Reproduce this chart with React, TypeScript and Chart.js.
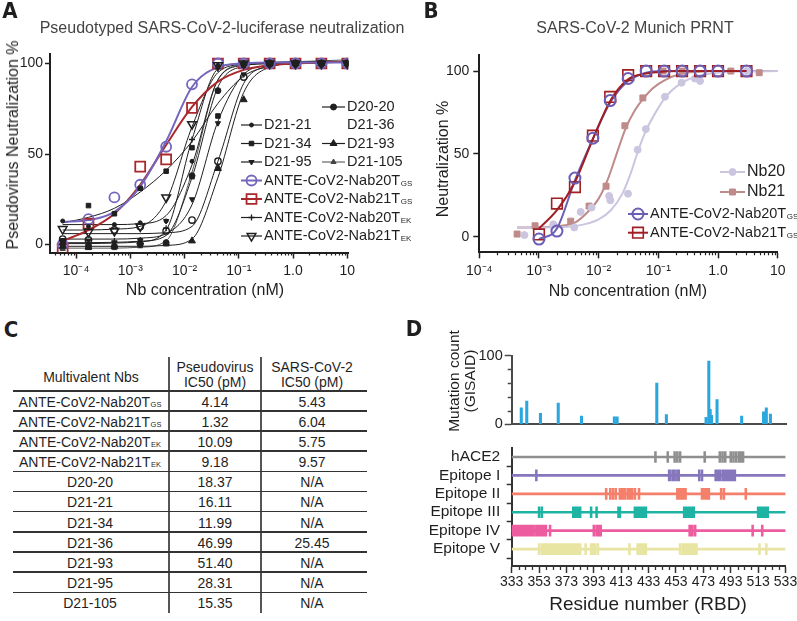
import React, { useEffect, useRef } from 'react';
import { Chart, registerables } from 'chart.js';

Chart.register(...registerables);

const FONT = '"Liberation Sans", Arial, Helvetica, sans-serif';
const LETTER_FONT = '"Liberation Sans Narrow", "DejaVu Sans Condensed", "Liberation Sans", Arial, sans-serif';
const INK = '#1f1f1f';
Chart.defaults.font.family = FONT;
Chart.defaults.color = INK;

// ---------------- Panel A data (pseudovirus neutralization) ----------------
const aConc = [5.65e-5, 1.69e-4, 5.08e-4, 1.52e-3, 4.57e-3, 0.0137, 0.0412, 0.123, 0.37, 1.11, 3.33, 10];
const aD2020Pts = [0, -1, -1, 0, 1, 38, 85, 100, 100, 100, 100, 100];
const aD2020Fit = [1, 1, 1.2, 1.8, 5, 37, 87, 98.5, 100, 100.5, 101, 101];
const aD2121Pts = [13, 10, 11, 12, 13, 46, 99, 100, 100, 100, 100, 100];
const aD2121Fit = [11, 11, 11, 11.5, 16, 44, 91, 99, 100, 100.5, 101, 101];
const aD2134Pts = [2, 21.5, 17, 31, 40.5, 53.5, 71, 99, 100, 100, 100, 100];
const aD2134Fit = [12, 15, 20, 29, 41, 57, 78, 93, 98.5, 100, 100.5, 101];
const aD2136Pts = [3, 2.5, 8, 10, 7.5, 13.5, 46, 92.5, 100, 100, 100, 100];
const aD2136Fit = [6, 6, 6, 6, 6.5, 10, 46, 89, 98.5, 100, 100.5, 101];
const aD2193Pts = [-1, -1.5, -1, 1.5, 0.5, 2, 42, 80, 100, 100, 100, 100];
const aD2193Fit = [-1, -1, -1, -1, -0.5, 3, 37, 84, 98, 100, 100.5, 101];
const aD2195Pts = [2, 2, 1, 2.5, 13, 25, 67, 94, 100, 100, 100, 100];
const aD2195Fit = [3, 3, 3, 3.5, 6, 22, 68, 94, 99, 100, 100.5, 101];
const aD21105Pts = [-2.5, -2, -2, -1, 0, 37, 43, 100, 100, 100, 100, 100];
const aD21105Fit = [-2, -2, -2, -1.5, 2, 40, 91, 99.5, 100.5, 101, 101.5, 102];
const aNab20EKPts = [1, 0, 2, 2.5, 9, 58, 97, 100, 100, 100, 100, 100];
const aNab20EKFit = [0.5, 0.5, 0.8, 1.5, 8, 58, 97, 100, 100.5, 101, 101, 101];
const aNab21EKPts = [8.5, 7, 7.5, 10, 26, 66.5, 99, 100, 100, 100, 100, 100];
const aNab21EKFit = [8, 8, 8.5, 10, 24, 65, 95, 99.5, 100, 100.5, 101, 101];
const aNab20GSPts = [0, 14, 26, 33, 54, 88.5, 100, 100, 100, 100, 100, 100];
const aNab20GSFit = [12.5, 13.5, 18, 32, 57, 87, 98, 100, 100.5, 100.5, 100.5, 100.5];
const aNab21GSPts = [-2.5, 11.5, null, 43, 47, 75.5, 100, 100, 100, 100, 100, 100];
const aNab21GSFit = [2, 8, 17, 33, 55, 76, 90, 96.5, 99, 100, 100.5, 101];
const aXTickValues = [1e-4, 1e-3, 1e-2, 1e-1, 1, 10];
const aXTickLabels = ['10⁻⁴', '10⁻³', '10⁻²', '10⁻¹', '1.0', '10'];
const aYTickValues = [0, 50, 100];

// ---------------- Panel B data (PRNT) ----------------
const bNabConc = [0.001, 0.002, 0.004, 0.008, 0.0156, 0.0312, 0.0625, 0.125, 0.25, 0.5, 1, 3];
const bNab20Pts = [-1.4, 3.4, 35.4, 59.5, 82.2, 95.5, 100, 100, 100, 100, 100, 100];
const bNab20Fit = [-1.5, 5, 34, 59, 81, 94, 99, 100, 100, 100, 100, 100];
const bNab21Pts = [1.4, 20, 30, 61, 84.4, 97.5, 100, 100, 100, 100, 100, 100];
const bNab21Fit = [5, 16, 33, 59, 82, 95, 98.5, 99.7, 100, 100, 100, 100];
const bNb20Conc = [5.7e-4, 0.00174, 0.0039, 0.005, 0.0076, 0.015, 0.0157, 0.031, 0.045, 0.0618, 0.129, 0.245, 0.41, 0.5, 3];
const bNb20Pts = [1, 7.5, 5.6, 15, 17.6, 24.6, 22, 26, 52.5, 65, 84.5, 93, 95.5, 94, 100];
const bNb20FitConc = [4.3e-4, 0.002, 0.005, 0.01, 0.016, 0.025, 0.035, 0.045, 0.062, 0.09, 0.13, 0.25, 0.5, 1, 3, 10];
const bNb20Fit = [5.5, 5.7, 7, 10.5, 16, 26, 39, 51, 64, 75, 84, 93, 97.3, 99, 99.8, 100];
const bNb21Conc = [4.3e-4, 8.6e-4, 0.0034, 0.0069, 0.0133, 0.0275, 0.055, 0.12, 0.25, 1.64, 4.9];
const bNb21Pts = [1.6, 6.6, 9.4, 18.5, 30.5, 67, 83.8, 100, 100, 100, 99];
const bNb21FitConc = [4.3e-4, 0.001, 0.002, 0.004, 0.007, 0.01, 0.014, 0.02, 0.028, 0.04, 0.055, 0.08, 0.12, 0.25, 0.5, 1, 10];
const bNb21Fit = [5.5, 5.7, 6.3, 8.5, 16, 23, 34, 50, 65, 76, 83, 89.5, 94, 98.5, 99.6, 100, 100];
const bXTickValues = [1e-4, 1e-3, 1e-2, 1e-1, 1, 10];
const bXTickLabels = ['10⁻⁴', '10⁻³', '10⁻²', '10⁻¹', '1.0', '10'];
const bYTickValues = [0, 50, 100];

// ---------------- Panel C data (table) ----------------
const tableNames = ['ANTE-CoV2-Nab20T', 'ANTE-CoV2-Nab21T', 'ANTE-CoV2-Nab20T', 'ANTE-CoV2-Nab21T', 'D20-20', 'D21-21', 'D21-34', 'D21-36', 'D21-93', 'D21-95', 'D21-105'];
const tableSubs = ['GS', 'GS', 'EK', 'EK', '', '', '', '', '', '', ''];
const tablePseudo = ['4.14', '1.32', '10.09', '9.18', '18.37', '16.11', '11.99', '46.99', '51.40', '28.31', '15.35'];
const tableSars = ['5.43', '6.04', '5.75', '9.57', 'N/A', 'N/A', 'N/A', '25.45', 'N/A', 'N/A', 'N/A'];

// ---------------- Panel D data ----------------
const mutResidues = [340, 344, 354, 367, 384, 408, 410, 439, 446, 475, 477, 478, 479, 483, 501, 517, 519, 522];
const mutCounts = [24, 34, 16, 31, 12, 11, 11, 60, 14, 10, 92, 22, 13, 36, 12, 18, 24, 15];
const mutYTicks = [0, 100];
const trackNames = ['hACE2', 'Epitope I', 'Epitope II', 'Epitope III', 'Epitope IV', 'Epitope V'];
const hace2Sites = [[438, 438], [447, 447], [452, 452], [454, 454], [456, 456], [474, 474], [485, 485], [487, 487], [489, 489], [493, 493], [495, 495], [497, 497], [499, 502]];
const epitope1Sites = [[351, 351], [448, 449], [451, 452], [454, 455], [470, 470], [472, 472], [482, 485], [487, 496]];
const epitope2Sites = [[402, 402], [405, 405], [407, 407], [409, 409], [412, 416], [418, 421], [423, 423], [426, 426], [454, 460], [472, 477], [486, 486], [488, 488], [504, 504]];
const epitope3Sites = [[353, 353], [355, 355], [378, 383], [391, 391], [395, 395], [411, 412], [423, 431], [459, 466], [513, 520]];
const epitope4Sites = [[333, 349], [351, 358], [361, 361], [393, 393], [395, 398], [463, 465], [467, 467], [509, 509], [516, 516]];
const epitope5Sites = [[353, 353], [355, 383], [387, 387], [391, 394], [396, 396], [419, 419], [425, 431], [456, 456], [458, 468], [514, 514], [519, 519]];
const trackSites = [hace2Sites, epitope1Sites, epitope2Sites, epitope3Sites, epitope4Sites, epitope5Sites];
const residueTickValues = [333, 353, 373, 393, 413, 433, 453, 473, 493, 513, 533];

// ---------------- styles ----------------
const TRANSPARENT = 'rgba(0,0,0,0)';
const PURPLE_A = '#7566bd';
const RED_A = '#a8282c';
const trackColors = ['#8f8f8f', '#8677bd', '#f47f6b', '#1fb3a3', '#ec5c9f', '#e8e4a2'];

type Marker = { shape: string; radius: number; rotation?: number; fill: string; stroke: string; lw: number };

const aSeries = [
  { name: 'D20-20', pts: aD2020Pts, fit: aD2020Fit, colored: false, line: INK, lw: 1, marker: { shape: 'circle', radius: 3, fill: INK, stroke: INK, lw: 1 } },
  { name: 'D21-21', pts: aD2121Pts, fit: aD2121Fit, colored: false, line: INK, lw: 1, marker: { shape: 'circle', radius: 2, fill: INK, stroke: INK, lw: 1 } },
  { name: 'D21-34', pts: aD2134Pts, fit: aD2134Fit, colored: false, line: INK, lw: 1, marker: { shape: 'rect', radius: 3.2, fill: INK, stroke: INK, lw: 1 } },
  { name: 'D21-36', pts: aD2136Pts, fit: aD2136Fit, colored: false, line: INK, lw: 1, marker: { shape: 'circle', radius: 3.2, fill: TRANSPARENT, stroke: INK, lw: 1.4 } },
  { name: 'D21-93', pts: aD2193Pts, fit: aD2193Fit, colored: false, line: INK, lw: 1, marker: { shape: 'triangle', radius: 4, fill: INK, stroke: INK, lw: 1 } },
  { name: 'D21-95', pts: aD2195Pts, fit: aD2195Fit, colored: false, line: INK, lw: 1, marker: { shape: 'triangle', rotation: 180, radius: 3, fill: INK, stroke: INK, lw: 1 } },
  { name: 'D21-105', pts: aD21105Pts, fit: aD21105Fit, colored: false, line: '#555', lw: 1, marker: { shape: 'triangle', radius: 3, fill: '#444', stroke: '#444', lw: 1 } },
  { name: 'Nab20TEK', pts: aNab20EKPts, fit: aNab20EKFit, colored: false, line: INK, lw: 1, marker: { shape: 'cross', radius: 3, fill: INK, stroke: INK, lw: 1.3 } },
  { name: 'Nab21TEK', pts: aNab21EKPts, fit: aNab21EKFit, colored: false, line: INK, lw: 1, marker: { shape: 'triangle', rotation: 180, radius: 5, fill: TRANSPARENT, stroke: INK, lw: 1.5 } },
  { name: 'Nab20TGS', pts: aNab20GSPts, fit: aNab20GSFit, colored: true, line: PURPLE_A, lw: 2, marker: { shape: 'circle', radius: 5, fill: TRANSPARENT, stroke: PURPLE_A, lw: 1.8 } },
  { name: 'Nab21TGS', pts: aNab21GSPts, fit: aNab21GSFit, colored: true, line: RED_A, lw: 2, marker: { shape: 'rect', radius: 7, fill: TRANSPARENT, stroke: RED_A, lw: 1.8 } },
];

const B_PURPLE = '#6c5db5';
const B_RED = '#a01f22';
const B_LAV = '#cbc5e0';
const B_ROSE = '#bf8a8a';
const bMarkers: Record<string, Marker> = {
  nab20: { shape: 'circle', radius: 5.5, fill: TRANSPARENT, stroke: B_PURPLE, lw: 2 },
  nab21: { shape: 'rect', radius: 7.5, fill: TRANSPARENT, stroke: B_RED, lw: 1.6 },
  nb20: { shape: 'circle', radius: 3.5, fill: B_LAV, stroke: B_LAV, lw: 1 },
  nb21: { shape: 'rect', radius: 4.2, fill: B_ROSE, stroke: B_ROSE, lw: 1 },
};

// ---------------- helpers ----------------
function drawMarker(ctx: CanvasRenderingContext2D, m: Marker, x: number, y: number) {
  ctx.save();
  ctx.fillStyle = m.fill;
  ctx.strokeStyle = m.stroke;
  ctx.lineWidth = m.lw;
  const r = m.radius;
  ctx.beginPath();
  if (m.shape === 'circle') ctx.arc(x, y, r, 0, Math.PI * 2);
  else if (m.shape === 'rect') {
    const s = r * Math.SQRT1_2;
    ctx.rect(x - s, y - s, 2 * s, 2 * s);
  } else if (m.shape === 'triangle') {
    let rad = ((m.rotation || 0) * Math.PI) / 180;
    for (let i = 0; i < 3; i++) {
      const px = x + Math.sin(rad) * r;
      const py = y - Math.cos(rad) * r;
      if (i) ctx.lineTo(px, py);
      else ctx.moveTo(px, py);
      rad += (2 * Math.PI) / 3;
    }
    ctx.closePath();
  } else if (m.shape === 'cross') {
    ctx.moveTo(x - r, y);
    ctx.lineTo(x + r, y);
    ctx.moveTo(x, y - r);
    ctx.lineTo(x, y + r);
  }
  if (m.shape !== 'cross') ctx.fill();
  ctx.stroke();
  ctx.restore();
}

const pointOpts = (m: Marker) => ({
  pointStyle: m.shape,
  pointRadius: m.radius,
  pointHoverRadius: m.radius,
  pointRotation: m.rotation || 0,
  pointBackgroundColor: m.fill,
  pointBorderColor: m.stroke,
  pointBorderWidth: m.lw,
});

const fixSize = (size: number) => (scale: any) => {
  if (scale.isHorizontal()) scale.height = size;
  else scale.width = size;
  scale.paddingLeft = 0;
  scale.paddingRight = 0;
  scale.paddingTop = 0;
  scale.paddingBottom = 0;
};

type MinorItem = { axis: string; values: number[]; length: number; color: string; width: number };
function makeMinorTicks(items: MinorItem[]) {
  return {
    id: 'minorTicks',
    afterDraw(chart: any) {
      const ctx = chart.ctx;
      const area = chart.chartArea;
      items.forEach((it) => {
        const scale = chart.scales[it.axis];
        ctx.save();
        ctx.strokeStyle = it.color;
        ctx.lineWidth = it.width;
        ctx.beginPath();
        it.values.forEach((v) => {
          const p = Math.round(scale.getPixelForValue(v)) + 0.5;
          if (scale.isHorizontal()) {
            ctx.moveTo(p, area.bottom);
            ctx.lineTo(p, area.bottom + it.length);
          } else {
            ctx.moveTo(area.left, p);
            ctx.lineTo(area.left - it.length, p);
          }
        });
        ctx.stroke();
        ctx.restore();
      });
    },
  };
}

type LegendItem = { text: string; sub?: string; x1?: number; x2?: number; tx: number; y: number; line?: string; lw?: number; marker?: Marker; size: number };
function makeLegend(items: LegendItem[]) {
  return {
    id: 'figLegend',
    afterDatasetsDraw(chart: any) {
      const ctx: CanvasRenderingContext2D = chart.ctx;
      items.forEach((it) => {
        if (it.line && it.x1 !== undefined && it.x2 !== undefined) {
          ctx.save();
          ctx.strokeStyle = it.line;
          ctx.lineWidth = it.lw || 1;
          ctx.beginPath();
          ctx.moveTo(it.x1, it.y);
          ctx.lineTo(it.x2, it.y);
          ctx.stroke();
          ctx.restore();
        }
        if (it.marker && it.x1 !== undefined && it.x2 !== undefined) drawMarker(ctx, it.marker, (it.x1 + it.x2) / 2, it.y);
        ctx.save();
        ctx.fillStyle = INK;
        ctx.font = `${it.size}px ${FONT}`;
        ctx.textBaseline = 'middle';
        ctx.textAlign = 'left';
        ctx.fillText(it.text, it.tx, it.y);
        if (it.sub) {
          const w = ctx.measureText(it.text).width;
          ctx.font = `${Math.round(it.size * 0.52)}px ${FONT}`;
          ctx.textBaseline = 'alphabetic';
          ctx.fillText(it.sub, it.tx + w + 0.5, it.y + it.size * 0.36);
        }
        ctx.restore();
      });
    },
  };
}

function logMinors(min: number, max: number) {
  const out: number[] = [];
  for (let k = -6; k <= 2; k++) {
    for (let m = 2; m <= 9; m++) {
      const v = m * Math.pow(10, k);
      if (v > min && v < max) out.push(v);
    }
  }
  return out;
}

const axisGrid = (len: number) => ({ display: true, drawOnChartArea: false, drawTicks: true, tickLength: len, tickWidth: 1.5, tickColor: INK });
const axisBorder = { display: true, color: INK, width: 2 };

// ---------------- chart builders ----------------
const A_XMIN = 3.3e-5;
const A_XMAX = 10.43;

function buildA(): any {
  const datasets: any[] = [];
  aSeries.forEach((s) => {
    datasets.push({
      label: s.name + ' points',
      data: aConc.map((c, j) => ({ x: c, y: s.pts[j] })).filter((p) => p.y !== null),
      showLine: false,
      order: 0,
      ...pointOpts(s.marker as Marker),
    });
    datasets.push({
      label: s.name + ' fit',
      data: aConc.map((c, j) => ({ x: c, y: s.fit[j] })),
      showLine: true,
      pointRadius: 0,
      borderColor: s.line,
      borderWidth: s.lw,
      cubicInterpolationMode: 'monotone',
      order: s.colored ? 1 : 2,
    });
  });
  const m = (name: string) => aSeries.find((s) => s.name === name)!.marker as Marker;
  const L = { x1: 241, x2: 262, tx: 264 };
  const R = { x1: 322, x2: 345, tx: 347 };
  const size = 14.5;
  const legend: LegendItem[] = [
    { text: 'D20-20', ...R, y: 107, line: INK, lw: 1.2, marker: m('D20-20'), size },
    { text: 'D21-21', ...L, y: 125, line: INK, lw: 1.2, marker: m('D21-21'), size },
    { text: 'D21-36', tx: 347, y: 125, size },
    { text: 'D21-34', ...L, y: 143.5, line: INK, lw: 1.2, marker: m('D21-34'), size },
    { text: 'D21-93', ...R, y: 143.5, line: INK, lw: 1.2, marker: m('D21-93'), size },
    { text: 'D21-95', ...L, y: 162, line: INK, lw: 1.2, marker: m('D21-95'), size },
    { text: 'D21-105', ...R, y: 162, line: '#666', lw: 1.2, marker: m('D21-105'), size },
    { text: 'ANTE-CoV2-Nab20T', sub: 'GS', ...L, y: 180.5, line: PURPLE_A, lw: 2, marker: m('Nab20TGS'), size },
    { text: 'ANTE-CoV2-Nab21T', sub: 'GS', ...L, y: 199, line: RED_A, lw: 2, marker: m('Nab21TGS'), size },
    { text: 'ANTE-CoV2-Nab20T', sub: 'EK', ...L, y: 217.5, line: INK, lw: 1.2, marker: m('Nab20TEK'), size },
    { text: 'ANTE-CoV2-Nab21T', sub: 'EK', ...L, y: 236, line: INK, lw: 1.2, marker: m('Nab21TEK'), size },
  ];
  return {
    type: 'scatter',
    data: { datasets },
    options: {
      responsive: false,
      animation: false,
      devicePixelRatio: 1,
      events: [],
      layout: { padding: { left: 0, right: 420 - 348.3, top: 54, bottom: 0 } },
      plugins: { legend: { display: false }, tooltip: { enabled: false } },
      scales: {
        x: {
          type: 'logarithmic',
          min: A_XMIN,
          max: A_XMAX,
          bounds: 'data',
          afterFit: fixSize(300 - 252.5),
          afterBuildTicks: (s: any) => { s.ticks = aXTickValues.map((v) => ({ value: v })); },
          ticks: { callback: (_v: any, i: number) => aXTickLabels[i], font: { size: 14 }, color: INK, padding: 4, autoSkip: false, maxRotation: 0 },
          grid: axisGrid(6),
          border: axisBorder,
        },
        y: {
          type: 'linear',
          min: -4.42,
          max: 105.25,
          bounds: 'data',
          afterFit: fixSize(50),
          afterBuildTicks: (s: any) => { s.ticks = aYTickValues.map((v) => ({ value: v })); },
          ticks: { font: { size: 14 }, color: INK, padding: 2 },
          grid: axisGrid(5),
          border: axisBorder,
        },
      },
    },
    plugins: [
      makeMinorTicks([{ axis: 'x', values: logMinors(A_XMIN, A_XMAX), length: 3, color: INK, width: 1.2 }]),
      makeLegend(legend),
    ],
  };
}

function buildB(): any {
  const pts = (xs: number[], ys: number[]) => xs.map((x, i) => ({ x, y: ys[i] }));
  const datasets: any[] = [
    { label: 'Nab20 pts', data: pts(bNabConc, bNab20Pts), showLine: false, order: 0, ...pointOpts(bMarkers.nab20) },
    { label: 'Nab21 pts', data: pts(bNabConc, bNab21Pts), showLine: false, order: 0, ...pointOpts(bMarkers.nab21) },
    { label: 'Nb20 pts', data: pts(bNb20Conc, bNb20Pts), showLine: false, order: 3, ...pointOpts(bMarkers.nb20) },
    { label: 'Nb21 pts', data: pts(bNb21Conc, bNb21Pts), showLine: false, order: 3, ...pointOpts(bMarkers.nb21) },
    { label: 'Nab20 fit', data: pts(bNabConc, bNab20Fit), showLine: true, pointRadius: 0, borderColor: B_PURPLE, borderWidth: 2, cubicInterpolationMode: 'monotone', order: 2 },
    { label: 'Nab21 fit', data: pts(bNabConc, bNab21Fit), showLine: true, pointRadius: 0, borderColor: B_RED, borderWidth: 2, cubicInterpolationMode: 'monotone', order: 1 },
    { label: 'Nb20 fit', data: pts(bNb20FitConc, bNb20Fit), showLine: true, pointRadius: 0, borderColor: B_LAV, borderWidth: 2, cubicInterpolationMode: 'monotone', order: 4 },
    { label: 'Nb21 fit', data: pts(bNb21FitConc, bNb21Fit), showLine: true, pointRadius: 0, borderColor: B_ROSE, borderWidth: 2, cubicInterpolationMode: 'monotone', order: 4 },
  ];
  const off = 420;
  const legend: LegendItem[] = [
    { text: 'Nb20', x1: 720 - off, x2: 745 - off, tx: 747 - off, y: 172, line: B_LAV, lw: 2, marker: bMarkers.nb20, size: 16 },
    { text: 'Nb21', x1: 720 - off, x2: 745 - off, tx: 747 - off, y: 192, line: B_ROSE, lw: 2, marker: bMarkers.nb21, size: 16 },
    { text: 'ANTE-CoV2-Nab20T', sub: 'GS', x1: 628 - off, x2: 648 - off, tx: 650 - off, y: 214, line: B_PURPLE, lw: 2, marker: bMarkers.nab20, size: 14.5 },
    { text: 'ANTE-CoV2-Nab21T', sub: 'GS', x1: 628 - off, x2: 648 - off, tx: 650 - off, y: 232.7, line: B_RED, lw: 2, marker: bMarkers.nab21, size: 14.5 },
  ];
  return {
    type: 'scatter',
    data: { datasets },
    options: {
      responsive: false,
      animation: false,
      devicePixelRatio: 1,
      events: [],
      layout: { padding: { left: 0, right: 377 - (777.7 - off), top: 55, bottom: 0 } },
      plugins: { legend: { display: false }, tooltip: { enabled: false } },
      scales: {
        x: {
          type: 'logarithmic',
          min: 1e-4,
          max: 10,
          bounds: 'data',
          afterFit: fixSize(300 - 252.3),
          afterBuildTicks: (s: any) => { s.ticks = bXTickValues.map((v) => ({ value: v })); },
          ticks: { callback: (_v: any, i: number) => bXTickLabels[i], font: { size: 14 }, color: INK, padding: 4, autoSkip: false, maxRotation: 0 },
          grid: axisGrid(6),
          border: axisBorder,
        },
        y: {
          type: 'linear',
          min: -9.4,
          max: 109.7,
          bounds: 'data',
          afterFit: fixSize(479.3 - off),
          afterBuildTicks: (s: any) => { s.ticks = bYTickValues.map((v) => ({ value: v })); },
          ticks: { font: { size: 14 }, color: INK, padding: 4 },
          grid: axisGrid(6),
          border: axisBorder,
        },
      },
    },
    plugins: [
      makeMinorTicks([{ axis: 'x', values: logMinors(1e-4, 10), length: 3, color: INK, width: 1.2 }]),
      makeLegend(legend),
    ],
  };
}

const D_LEFT = 400;
const D_AXIS_RIGHT = 785.5;

function buildD1(): any {
  return {
    type: 'bar',
    data: {
      datasets: [
        {
          label: 'Mutation count',
          data: mutResidues.map((r, i) => ({ x: r, y: mutCounts[i] })),
          backgroundColor: '#2ba6de',
          barThickness: 2.4,
        },
      ],
    },
    options: {
      responsive: false,
      animation: false,
      devicePixelRatio: 1,
      events: [],
      layout: { padding: { left: 0, right: 397 - (D_AXIS_RIGHT + 1.2 - D_LEFT), top: 25.7, bottom: 0 } },
      plugins: { legend: { display: false }, tooltip: { enabled: false } },
      scales: {
        x: {
          type: 'linear',
          min: 333,
          max: 533.9,
          bounds: 'data',
          offset: false,
          afterFit: fixSize(110 - 94.3),
          ticks: { display: false },
          grid: { display: true, drawOnChartArea: false, drawTicks: false },
          border: { display: true, color: '#4a4a4a', width: 2 },
        },
        y: {
          type: 'linear',
          min: 0,
          max: 100,
          bounds: 'data',
          afterFit: fixSize(111.7),
          afterBuildTicks: (s: any) => { s.ticks = mutYTicks.map((v) => ({ value: v })); },
          ticks: { font: { size: 14.5 }, color: INK, padding: 2 },
          grid: { ...axisGrid(7), tickColor: '#4a4a4a' },
          border: { display: true, color: '#4a4a4a', width: 2 },
        },
      },
    },
    plugins: [makeMinorTicks([{ axis: 'y', values: [20, 40, 60, 80], length: 4, color: '#4a4a4a', width: 1.5 }])],
  };
}

function buildD2(): any {
  const datasets: any[] = [];
  datasets.push({
    label: 'track lines',
    data: trackNames.map((_n, i) => ({ y: i, x: [333, 533] })),
    backgroundColor: trackColors,
    barThickness: 2,
    grouped: false,
    order: 2,
  });
  trackSites.forEach((sites, t) => {
    datasets.push({
      label: trackNames[t],
      data: sites.map(([s, e]) => ({ y: t, x: [s - 0.7, e + 0.7] })),
      backgroundColor: trackColors[t],
      barThickness: 11,
      grouped: false,
      order: 1,
    });
  });
  const minorRes: number[] = [];
  for (let r = 338; r < 533; r += 5) if ((r - 333) % 20 !== 0) minorRes.push(r);
  return {
    type: 'bar',
    data: { datasets },
    options: {
      indexAxis: 'y',
      responsive: false,
      animation: false,
      devicePixelRatio: 1,
      events: [],
      layout: { padding: { left: 0, right: 397 - (D_AXIS_RIGHT - D_LEFT), top: 8.3, bottom: 0 } },
      plugins: { legend: { display: false }, tooltip: { enabled: false } },
      scales: {
        x: {
          type: 'linear',
          min: 333,
          max: 533,
          bounds: 'data',
          offset: false,
          afterFit: fixSize(160 - 126),
          afterBuildTicks: (s: any) => { s.ticks = residueTickValues.map((v) => ({ value: v })); },
          ticks: { font: { size: 14 }, color: INK, padding: 1, autoSkip: false, maxRotation: 0 },
          grid: { ...axisGrid(7), tickColor: '#333' },
          border: { display: true, color: '#333', width: 2 },
        },
        y: {
          type: 'linear',
          reverse: true,
          min: -0.47,
          max: 5.92,
          bounds: 'data',
          offset: false,
          afterFit: fixSize(111.7),
          afterBuildTicks: (s: any) => { s.ticks = trackNames.map((_n, i) => ({ value: i })); },
          ticks: { callback: (v: number) => trackNames[v], font: { size: 15.5 }, color: INK, padding: 6.5 },
          grid: { ...axisGrid(5), tickColor: '#333' },
          border: { display: true, color: '#333', width: 2 },
        },
      },
    },
    plugins: [makeMinorTicks([{ axis: 'x', values: minorRes, length: 4, color: '#333', width: 1.3 }])],
  };
}

// ---------------- HTML text helper ----------------
function Label(props: any) {
  const { x, y, size, children, anchor = 'center', rotate = 0, weight = 400, color = INK, family = FONT, lh = 1, align = 'center' } = props;
  const tx = anchor === 'center' ? '-50%' : anchor === 'right' ? '-100%' : '0%';
  return (
    <div
      style={{
        position: 'absolute',
        left: x,
        top: y,
        transform: `translate(${tx}, -50%)${rotate ? ` rotate(${rotate}deg)` : ''}`,
        fontSize: size,
        fontWeight: weight,
        color,
        fontFamily: family,
        whiteSpace: 'nowrap',
        lineHeight: lh,
        textAlign: align,
      }}
    >
      {children}
    </div>
  );
}

const Sub = ({ children }: any) => (
  <span style={{ fontSize: 7.5, marginLeft: 0.5 }}>{children}</span>
);

export default function App() {
  const refA = useRef<HTMLCanvasElement>(null);
  const refB = useRef<HTMLCanvasElement>(null);
  const refD1 = useRef<HTMLCanvasElement>(null);
  const refD2 = useRef<HTMLCanvasElement>(null);

  useEffect(() => {
    const charts = [
      new Chart(refA.current as HTMLCanvasElement, buildA()),
      new Chart(refB.current as HTMLCanvasElement, buildB()),
      new Chart(refD1.current as HTMLCanvasElement, buildD1()),
      new Chart(refD2.current as HTMLCanvasElement, buildD2()),
    ];
    return () => charts.forEach((c) => c.destroy());
  }, []);

  const rowH = 20.15;
  return (
    <div style={{ position: 'absolute', left: 0, top: 0, width: 797, height: 621, background: '#fff', overflow: 'hidden', fontFamily: FONT, color: INK }}>
      <canvas ref={refA} width={420} height={300} style={{ position: 'absolute', left: 0, top: 0 }} />
      <canvas ref={refB} width={377} height={300} style={{ position: 'absolute', left: 420, top: 0 }} />
      <canvas ref={refD1} width={397} height={110} style={{ position: 'absolute', left: 400, top: 330 }} />
      <canvas ref={refD2} width={397} height={160} style={{ position: 'absolute', left: 400, top: 440 }} />

      {/* panel letters */}
      <Label x={10} y={11} size={22} weight={700} family={LETTER_FONT}>A</Label>
      <Label x={431} y={11} size={22} weight={700} family={LETTER_FONT}>B</Label>
      <Label x={11} y={330} size={22} weight={700} family={LETTER_FONT}>C</Label>
      <Label x={414} y={329} size={22} weight={700} family={LETTER_FONT}>D</Label>

      {/* panel A text */}
      <Label x={222} y={28} size={16} color="#444">Pseudotyped SARS-CoV-2-luciferase neutralization</Label>
      <Label x={205} y={290} size={16}>Nb concentration (nM)</Label>
      <Label x={13} y={145} size={16} rotate={-90}>Pseudovirus Neutralization %</Label>

      {/* panel B text */}
      <Label x={635} y={28} size={16} color="#444">SARS-CoV-2 Munich PRNT</Label>
      <Label x={628} y={291} size={16}>Nb concentration (nM)</Label>
      <Label x={443} y={159} size={16} rotate={-90}>Neutralization %</Label>

      {/* panel C table */}
      <Label x={91} y={377} size={14}>Multivalent Nbs</Label>
      <Label x={215} y={367} size={14}>Pseudovirus</Label>
      <Label x={215} y={382} size={14}>IC50 (pM)</Label>
      <Label x={312} y={367} size={14}>SARS-CoV-2</Label>
      <Label x={312} y={382} size={14}>IC50 (pM)</Label>
      <div style={{ position: 'absolute', left: 168, top: 357, width: 2, height: 256, background: '#555' }} />
      <div style={{ position: 'absolute', left: 260, top: 357, width: 2, height: 256, background: '#555' }} />
      {tableNames.map((n, i) => {
        const yTop = 391 + rowH * i;
        return (
          <React.Fragment key={i}>
            <div style={{ position: 'absolute', left: 13, top: yTop - 1, width: 354, height: i === 0 ? 2 : 1.6, background: '#333' }} />
            <Label x={90} y={yTop + 10.7} size={14}>
              {n}
              {tableSubs[i] ? <Sub>{tableSubs[i]}</Sub> : null}
            </Label>
            <Label x={215} y={yTop + 10.7} size={14}>{tablePseudo[i]}</Label>
            <Label x={312} y={yTop + 10.7} size={14}>{tableSars[i]}</Label>
          </React.Fragment>
        );
      })}

      {/* panel D text */}
      <Label x={462} y={381} size={15.5} rotate={-90} lh={1.05}>
        Mutation count
        <br />
        (GISAID)
      </Label>
      <Label x={648} y={603} size={19}>Residue number (RBD)</Label>
    </div>
  );
}
